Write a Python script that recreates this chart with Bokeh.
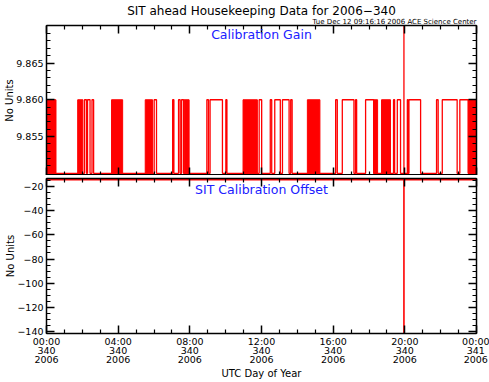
import numpy as np
from bokeh.plotting import figure
from bokeh.models import (Range1d, FixedTicker, LinearAxis, Label, Title,
                          CustomLabelingPolicy)
from bokeh.layouts import column
from bokeh.embed import file_html
from bokeh.resources import INLINE

# ---------------- data (hours of day 340) ----------------
gain_low = 9.850
gain_high = 9.860
# isolated high intervals of the calibration gain
pulse_start = [2.12, 2.29, 2.54, 6.01, 7.04, 7.37, 7.54, 8.95, 9.13, 10.01, 11.87, 12.49,
               12.74, 13.17, 13.63, 16.14, 16.51, 17.25, 17.81, 19.37, 19.58, 20.14, 20.23,
               21.77, 22.09, 23.07]
pulse_end = [2.23, 2.43, 2.63, 6.14, 7.11, 7.46, 7.65, 9.04, 9.82, 10.07, 12.01, 12.57,
             13.05, 13.54, 13.71, 16.23, 17.16, 17.31, 18.26, 19.43, 19.76, 20.18, 20.88,
             21.86, 22.92, 23.54]
# periods of rapid toggling between the two gain values
dense_start = [0.00, 1.74, 3.63, 5.51, 7.68, 10.97, 14.56, 18.26, 18.70, 23.54]
dense_end = [0.53, 2.03, 4.25, 5.92, 7.96, 11.77, 15.26, 18.48, 19.20, 24.00]
# glitch
spike_time = 19.95
gain_spike = 10.20

offset_time = [0.0, 19.95, 19.95, 19.95, 24.0]
offset_value = [-13.9, -13.9, -260.0, -13.9, -13.9]

x_ticks = [0, 4, 8, 12, 16, 20, 24]
x_tick_text = ["00:00\n340\n2006", "04:00\n340\n2006", "08:00\n340\n2006", "12:00\n340\n2006",
               "16:00\n340\n2006", "20:00\n340\n2006", "00:00\n341\n2006"]
gain_ticks = [9.855, 9.860, 9.865]
gain_tick_text = ["9.855", "9.860", "9.865"]
offset_ticks = [-140, -120, -100, -80, -60, -40, -20]
offset_tick_text = ["\u2212140", "\u2212120", "\u2212100", "\u221280", "\u221260", "\u221240", "\u221220"]

title_text = "SIT ahead Housekeeping Data for 2006\u2212340"
stamp_text = "Tue Dec 12 09:16:16 2006 ACE Science Center"

# ---------------- build gain step series ----------------
events = [(s, e, gain_high) for s, e in zip(pulse_start, pulse_end)]
events.append((spike_time, spike_time, gain_spike))
events.sort()
gx, gy = [0.0], [gain_low]
for s, e, v in events:
    gx += [s, s, e, e]
    gy += [gain_low, v, v, gain_low]
gx.append(24.0)
gy.append(gain_low)

FONT = "DejaVu Sans"
RED = "#ff0000"
BLUE = "#2020ff"
W = 489
L, R = 46, 13

HIDE = CustomLabelingPolicy(code="""
for (const i of Array.from(indices)) { indices.unset(i) }
return indices
""")


def style_axis(ax, show_labels):
    ax.major_tick_in = 8
    ax.major_tick_out = 0
    ax.minor_tick_in = 4
    ax.minor_tick_out = 0
    ax.axis_line_color = "black"
    ax.axis_line_width = 1.5
    ax.major_tick_line_color = "black"
    ax.minor_tick_line_color = "black"
    ax.major_tick_line_width = 1.5
    ax.minor_tick_line_width = 1.2
    ax.major_label_text_font = FONT
    ax.major_label_text_color = "black"
    ax.axis_label_text_font = FONT
    ax.axis_label_text_font_style = "normal"
    ax.axis_label_text_font_size = "10px"
    ax.axis_label_text_color = "black"
    if show_labels:
        ax.major_label_text_font_size = "9.5px"
        ax.major_label_standoff = 3
    else:
        ax.major_label_text_font_size = "0px"
        ax.major_label_standoff = 0
        ax.major_label_policy = HIDE


def make_fig(height, top, bottom, yr):
    p = figure(width=W, height=height, output_backend="svg", toolbar_location=None,
               x_range=Range1d(0, 24), y_range=yr,
               min_border_left=L, min_border_right=R, min_border_top=top,
               min_border_bottom=bottom, x_axis_location=None, y_axis_location=None)
    p.xgrid.visible = False
    p.ygrid.visible = False
    p.outline_line_color = "black"
    p.background_fill_color = "white"
    p.border_fill_color = "white"
    return p


x_minor = [h for h in range(0, 25) if h % 4 != 0]

# ---------------- top panel: calibration gain ----------------
p1 = make_fig(175, 25, 0, Range1d(9.8497, 9.8701))
gain_minor = [round(9.850 + 0.001 * i, 3) for i in range(0, 21) if i % 5 != 0]
for loc, show in (("left", True), ("right", False)):
    ax = LinearAxis(ticker=FixedTicker(ticks=gain_ticks, minor_ticks=gain_minor),
                    major_label_overrides=dict(zip(gain_ticks, gain_tick_text)))
    style_axis(ax, show)
    if show:
        ax.axis_label = "No Units"
        ax.axis_label_standoff = -2
    p1.add_layout(ax, loc)
for loc in ("below", "above"):
    ax = LinearAxis(ticker=FixedTicker(ticks=x_ticks, minor_ticks=x_minor))
    style_axis(ax, False)
    p1.add_layout(ax, loc)

p1.add_layout(Title(text=stamp_text, align="right", text_font=FONT, text_font_size="7px",
                    text_font_style="normal", text_color="black", standoff=-1), "above")
p1.title = Title(text=title_text, align="center", text_font=FONT, text_font_size="12px",
                 text_font_style="normal", text_color="black", standoff=-2)

p1.quad(left=dense_start, right=dense_end, bottom=gain_low, top=gain_high,
        fill_color=RED, line_color=RED, line_width=1)
p1.line(gx, gy, line_color=RED, line_width=1.3)

p1.add_layout(Label(x=215, y=141, x_units="screen", y_units="screen", text="Calibration Gain",
                    text_align="center", text_baseline="alphabetic", text_font=FONT,
                    text_font_size="12.5px", text_color=BLUE))

# ---------------- bottom panel: calibration offset ----------------
p2 = make_fig(207, 3, 49, Range1d(-142, -13))
off_minor = [v for v in range(-140, -10, 5) if v % 20 != 0]
for loc, show in (("left", True), ("right", False)):
    ax = LinearAxis(ticker=FixedTicker(ticks=offset_ticks, minor_ticks=off_minor),
                    major_label_overrides=dict(zip(offset_ticks, offset_tick_text)))
    style_axis(ax, show)
    if show:
        ax.axis_label = "No Units"
        ax.axis_label_standoff = -2
    p2.add_layout(ax, loc)
ax = LinearAxis(ticker=FixedTicker(ticks=x_ticks, minor_ticks=x_minor),
                major_label_overrides=dict(zip(x_ticks, x_tick_text)))
style_axis(ax, True)
ax.major_label_standoff = 2
ax.major_label_text_line_height = 0.85
ax.axis_label = "UTC Day of Year"
ax.axis_label_standoff = 0
p2.add_layout(ax, "below")
ax = LinearAxis(ticker=FixedTicker(ticks=x_ticks, minor_ticks=x_minor))
style_axis(ax, False)
p2.add_layout(ax, "above")

p2.line(offset_time, offset_value, line_color=RED, line_width=1.6)

p2.add_layout(Label(x=215, y=144, x_units="screen", y_units="screen",
                    text="SIT Calibration Offset", text_align="center",
                    text_baseline="alphabetic", text_font=FONT, text_font_size="12.5px",
                    text_color=BLUE))

layout = column(p1, p2, spacing=0)
open("out.html", "w").write(file_html(layout, INLINE))
